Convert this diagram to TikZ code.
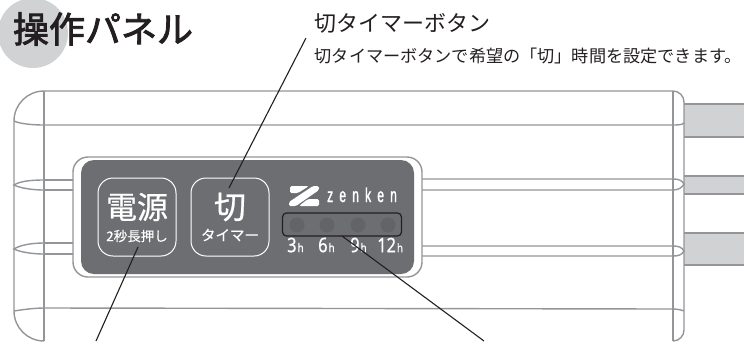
\documentclass[tikz,border=0pt]{standalone}
\usepackage{fontspec}
\setmainfont{Noto Sans CJK JP}
\newfontfamily\jpheavy[FakeBold=2.4]{Noto Sans CJK JP}
\newfontfamily\jpsemi[FakeBold=0.7]{Noto Sans CJK JP}
\newfontfamily\jphint[FakeBold=0.3]{Noto Sans CJK JP}
\newfontfamily\brandfont[LetterSpace=31,FakeStretch=0.6,FakeBold=1.4]{Liberation Sans}
\newfontfamily\numfont[FakeStretch=0.82,FakeBold=0.6]{Noto Sans}
\definecolor{linegray}{HTML}{939598}
\definecolor{barfill}{HTML}{D1D2D4}
\definecolor{panelgray}{HTML}{6D6E71}
\definecolor{ledgray}{HTML}{636467}
\definecolor{inkblack}{HTML}{231F20}
\tikzset{
  body/.style={draw=linegray,line width=1.4pt},
  leader/.style={draw=inkblack,line width=1.1pt},
  btn/.style={draw=white,line width=1pt,rounded corners=15pt,minimum width=78pt,minimum height=78pt,inner sep=0pt},
  wtext/.style={text=white,inner sep=0pt,anchor=center},
  led/.style={circle,fill=ledgray,minimum size=15pt,inner sep=0pt},
  hour/.style={text=white,inner sep=0pt,anchor=west,font=\numfont}
}
\newcommand{\pxfont}[1]{\fontsize{#1}{#1}\selectfont}
\begin{document}
\begin{tikzpicture}[x=1pt,y=-1pt]
\useasboundingbox (0,0) rectangle (744,341);
\begin{scope}
\clip (0,0) rectangle (744,341);
% title disc
\fill[barfill] (33,33) circle (35);
% bars on the right
\foreach \a/\b in {104/137,176/194,233/265}{
  \fill[barfill] (684,\a) rectangle (744,\b);
  \draw[body] (684,\a) -- (744,\a) (684,\b) -- (744,\b);
}
% body outline
\draw[body] (44,91) -- (673,91) arc[start angle=-90,end angle=0,radius=11] -- (684,330)
  arc[start angle=0,end angle=90,radius=11];
\draw[body] (44,91) arc[start angle=-90,end angle=-180,radius=30] -- (14,311)
  arc[start angle=180,end angle=90,radius=30];
\draw[body] (44,91) -- (44,341) (673,91) -- (673,341);
% horizontal lines
\draw[body] (14,121) .. controls (20,124) and (34,125) .. (44,125) -- (673,125) .. controls (677,125) and (682,125) .. (684,123);
\draw[body] (14,311) .. controls (20,310) and (34,308) .. (44,308) -- (673,309) .. controls (677,309) and (682,310) .. (684,311);
\draw[body] (44,180) .. controls (32,180) and (20,181) .. (14,185) .. controls (20,188) and (32,190) .. (44,190);
\draw[body] (44,243) .. controls (32,243) and (20,245) .. (14,249) .. controls (20,252) and (32,254) .. (44,254);
\draw[body] (44,180) -- (73,180) (44,190) -- (73,190) (44,243) -- (73,243) (44,254) -- (73,254);
\draw[body] (422,179) -- (673,179) .. controls (678,179) and (682,180) .. (684,184) .. controls (682,188) and (678,190) .. (673,190) -- (422,190);
\draw[body] (422,246) -- (673,246) .. controls (678,246) and (682,247) .. (684,251) .. controls (682,255) and (678,256) .. (673,256) -- (422,256);
\end{scope}
% panel
\draw[body,fill=white,rounded corners=15pt] (73,157) rectangle (422,277);
\fill[panelgray,rounded corners=13pt] (81,160) rectangle (414,274);
% buttons
\node[btn] (power) at (137,217) {};
\node[btn] (off) at (230,217) {};
\node[wtext,font=\jpsemi\pxfont{31}] (powername) at (137,207) {電源};
\node[wtext,font=\jphint\pxfont{13.5}] (powerhint) at (137,236) {2秒長押し};
\node[wtext,font=\jpsemi\pxfont{32}] (offname) at (230,207) {切};
\node[wtext,font=\jphint\pxfont{14.5}] (offhint) at (230,235) {タイマー};
% logo
\fill[white,rounded corners=1.5pt] (313,186) -- (319,186) -- (319,190) -- (296,206) -- (289,206) -- (289,202) -- cycle;
\fill[white,rounded corners=1.5pt] (290,186) -- (309,186) -- (298,193) -- (290,193) -- cycle;
\fill[white,rounded corners=1.5pt] (308,199) -- (319,199) -- (319,206) -- (299,206) -- cycle;
\node[text=white,inner sep=0pt,anchor=base west,font=\brandfont\pxfont{20}] (brand) at (327,202) {zenken};
% LEDs
\node[draw=inkblack,line width=1.2pt,fill=panelgray,rounded corners=4pt,minimum width=119pt,minimum height=23pt,inner sep=0pt] (ledbox) at (342,224.5) {};
\foreach \n/\x in {a/297,b/327,c/358,d/388}{\node[led] (led\n) at (\x,225) {};}
\node[hour] (h3) at (287,245) {\pxfont{20}3\hspace{1pt}\pxfont{12}h};
\node[hour] (h6) at (318,245) {\pxfont{20}6\hspace{1pt}\pxfont{12}h};
\node[hour] (h9) at (350,245) {\pxfont{20}9\hspace{1pt}\pxfont{12}h};
\node[hour] (h12) at (377,245) {\pxfont{20}12\hspace{1pt}\pxfont{12}h};
% title and captions
\node[inner sep=0pt,anchor=center,text=inkblack,font=\jpheavy\pxfont{36}] (title) at (103,29) {操作パネル};
\node[inner sep=0pt,anchor=west,text=inkblack,font=\pxfont{22}] (cap) at (314,23) {切タイマーボタン};
\node[inner sep=0pt,anchor=west,text=inkblack,font=\pxfont{17.15}] (desc) at (314.5,56) {切タイマーボタンで希望の「切」時間を設定できます。};
% leaders
\coordinate (offtip) at (229,188);
\coordinate (captip) at (306,38);
\coordinate (powertip) at (138,247);
\coordinate (powerend) at (96,341);
\coordinate (ledtip) at (342,236);
\coordinate (ledend) at (484,341);
\draw[leader] (offtip) -- (captip);
\draw[leader] (powertip) -- (powerend);
\draw[leader] (ledtip) -- (ledend);
\end{tikzpicture}
\end{document}
